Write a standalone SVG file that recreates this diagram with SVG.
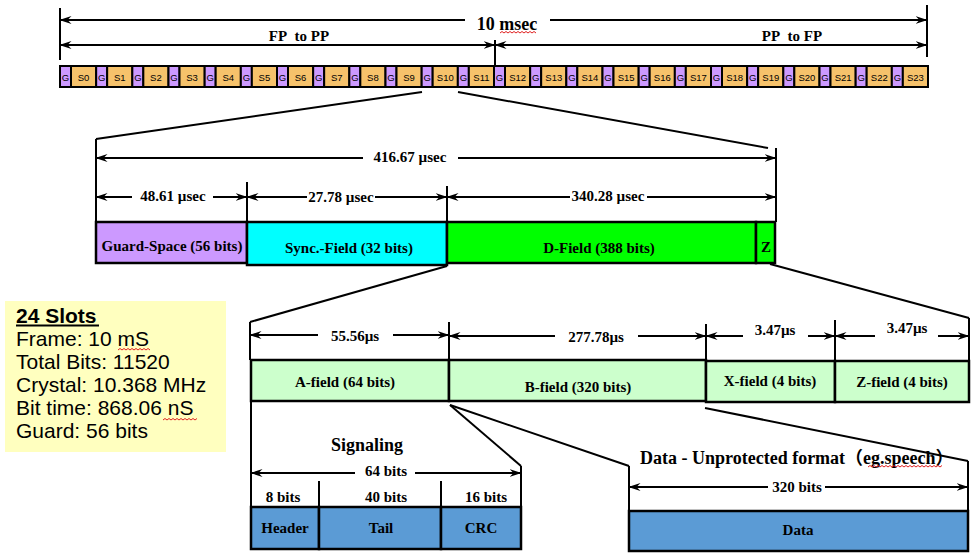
<svg xmlns="http://www.w3.org/2000/svg" width="980" height="558" viewBox="0 0 980 558">
<style>
.t{font-family:"Liberation Serif","Times New Roman",serif;font-weight:bold;font-size:15px;text-anchor:middle;fill:#000}
.big{font-size:18px}
.st{font-family:"Liberation Sans",Arial,sans-serif;font-size:9.5px;text-anchor:middle;fill:#000}
.y{font-family:"Liberation Sans",Arial,sans-serif;font-size:21px;fill:#000}
.ln{stroke:#000;stroke-width:2;fill:none}
.a1{stroke:#000;stroke-width:2;fill:none;marker-end:url(#arr)}
.a0{stroke:#000;stroke-width:2;fill:none;marker-start:url(#arr)}
.a2{stroke:#000;stroke-width:2;fill:none;marker-start:url(#arr);marker-end:url(#arr)}
.bx{stroke:#000;stroke-width:2.5}
.g{fill:#CC99FF;stroke:#000;stroke-width:2}
.s{fill:#F6C26B;stroke:#000;stroke-width:2}
.lg{fill:#CCFFCC}
.bl{fill:#5B9BD5}
.sq{stroke:#E02020;stroke-width:1;fill:none}
</style>
<defs>
<marker id="arr" viewBox="0 0 12 10" refX="11.5" refY="5" markerWidth="12" markerHeight="10" markerUnits="userSpaceOnUse" orient="auto-start-reverse">
<path d="M0,1 L12,5 L0,9 L4,5 Z" fill="#000"/>
</marker>
</defs>
<rect width="980" height="558" fill="#fff"/>

<g id="frame-slots">
<rect class="g" x="60" y="66" width="11" height="21"/><rect class="s" x="71" y="66" width="25.17" height="21"/>
<rect class="g" x="96.17" y="66" width="11" height="21"/><rect class="s" x="107.17" y="66" width="25.17" height="21"/>
<rect class="g" x="132.33" y="66" width="11" height="21"/><rect class="s" x="143.33" y="66" width="25.17" height="21"/>
<rect class="g" x="168.5" y="66" width="11" height="21"/><rect class="s" x="179.5" y="66" width="25.17" height="21"/>
<rect class="g" x="204.67" y="66" width="11" height="21"/><rect class="s" x="215.67" y="66" width="25.17" height="21"/>
<rect class="g" x="240.83" y="66" width="11" height="21"/><rect class="s" x="251.83" y="66" width="25.17" height="21"/>
<rect class="g" x="277" y="66" width="11" height="21"/><rect class="s" x="288" y="66" width="25.17" height="21"/>
<rect class="g" x="313.17" y="66" width="11" height="21"/><rect class="s" x="324.17" y="66" width="25.17" height="21"/>
<rect class="g" x="349.33" y="66" width="11" height="21"/><rect class="s" x="360.33" y="66" width="25.17" height="21"/>
<rect class="g" x="385.5" y="66" width="11" height="21"/><rect class="s" x="396.5" y="66" width="25.17" height="21"/>
<rect class="g" x="421.67" y="66" width="11" height="21"/><rect class="s" x="432.67" y="66" width="25.17" height="21"/>
<rect class="g" x="457.83" y="66" width="11" height="21"/><rect class="s" x="468.83" y="66" width="25.17" height="21"/>
<rect class="g" x="494" y="66" width="11" height="21"/><rect class="s" x="505" y="66" width="25.17" height="21"/>
<rect class="g" x="530.17" y="66" width="11" height="21"/><rect class="s" x="541.17" y="66" width="25.17" height="21"/>
<rect class="g" x="566.33" y="66" width="11" height="21"/><rect class="s" x="577.33" y="66" width="25.17" height="21"/>
<rect class="g" x="602.5" y="66" width="11" height="21"/><rect class="s" x="613.5" y="66" width="25.17" height="21"/>
<rect class="g" x="638.67" y="66" width="11" height="21"/><rect class="s" x="649.67" y="66" width="25.17" height="21"/>
<rect class="g" x="674.83" y="66" width="11" height="21"/><rect class="s" x="685.83" y="66" width="25.17" height="21"/>
<rect class="g" x="711" y="66" width="11" height="21"/><rect class="s" x="722" y="66" width="25.17" height="21"/>
<rect class="g" x="747.17" y="66" width="11" height="21"/><rect class="s" x="758.17" y="66" width="25.17" height="21"/>
<rect class="g" x="783.33" y="66" width="11" height="21"/><rect class="s" x="794.33" y="66" width="25.17" height="21"/>
<rect class="g" x="819.5" y="66" width="11" height="21"/><rect class="s" x="830.5" y="66" width="25.17" height="21"/>
<rect class="g" x="855.67" y="66" width="11" height="21"/><rect class="s" x="866.67" y="66" width="25.17" height="21"/>
<rect class="g" x="891.83" y="66" width="11" height="21"/><rect class="s" x="902.83" y="66" width="25.17" height="21"/>
<g>
<text class="st" x="65.5" y="81">G</text><text class="st" x="83.58" y="81">S0</text>
<text class="st" x="101.67" y="81">G</text><text class="st" x="119.75" y="81">S1</text>
<text class="st" x="137.83" y="81">G</text><text class="st" x="155.92" y="81">S2</text>
<text class="st" x="174" y="81">G</text><text class="st" x="192.08" y="81">S3</text>
<text class="st" x="210.17" y="81">G</text><text class="st" x="228.25" y="81">S4</text>
<text class="st" x="246.33" y="81">G</text><text class="st" x="264.42" y="81">S5</text>
<text class="st" x="282.5" y="81">G</text><text class="st" x="300.58" y="81">S6</text>
<text class="st" x="318.67" y="81">G</text><text class="st" x="336.75" y="81">S7</text>
<text class="st" x="354.83" y="81">G</text><text class="st" x="372.92" y="81">S8</text>
<text class="st" x="391" y="81">G</text><text class="st" x="409.08" y="81">S9</text>
<text class="st" x="427.17" y="81">G</text><text class="st" x="445.25" y="81">S10</text>
<text class="st" x="463.33" y="81">G</text><text class="st" x="481.42" y="81">S11</text>
<text class="st" x="499.5" y="81">G</text><text class="st" x="517.58" y="81">S12</text>
<text class="st" x="535.67" y="81">G</text><text class="st" x="553.75" y="81">S13</text>
<text class="st" x="571.83" y="81">G</text><text class="st" x="589.92" y="81">S14</text>
<text class="st" x="608" y="81">G</text><text class="st" x="626.08" y="81">S15</text>
<text class="st" x="644.17" y="81">G</text><text class="st" x="662.25" y="81">S16</text>
<text class="st" x="680.33" y="81">G</text><text class="st" x="698.42" y="81">S17</text>
<text class="st" x="716.5" y="81">G</text><text class="st" x="734.58" y="81">S18</text>
<text class="st" x="752.67" y="81">G</text><text class="st" x="770.75" y="81">S19</text>
<text class="st" x="788.83" y="81">G</text><text class="st" x="806.92" y="81">S20</text>
<text class="st" x="825" y="81">G</text><text class="st" x="843.08" y="81">S21</text>
<text class="st" x="861.17" y="81">G</text><text class="st" x="879.25" y="81">S22</text>
<text class="st" x="897.33" y="81">G</text><text class="st" x="915.42" y="81">S23</text>
</g>
</g>

<g id="slot-fields">
<rect x="96" y="222" width="151" height="41" fill="#CC99FF" class="bx"/>
<rect x="247" y="222" width="200" height="43" fill="#00FFFF" class="bx"/>
<rect x="447" y="222" width="309" height="41" fill="#00FF00" class="bx"/>
<rect x="756" y="222" width="19" height="41" fill="#00FF00" class="bx"/>
<text class="t" x="172" y="251">Guard-Space (56 bits)</text>
<text class="t" x="349" y="253">Sync.-Field (32 bits)</text>
<text class="t" x="599" y="253">D-Field (388 bits)</text>
<text class="t" x="766" y="252">Z</text>
</g>

<g id="d-fields">
<rect x="251" y="360" width="198" height="41" class="lg bx"/>
<rect x="449" y="360" width="257" height="41" class="lg bx"/>
<rect x="706" y="361" width="129" height="41" class="lg bx"/>
<rect x="835" y="361" width="134" height="41" class="lg bx"/>
<text class="t" x="345" y="387">A-field (64 bits)</text>
<text class="t" x="578" y="392">B-field (320 bits)</text>
<text class="t" x="770" y="386">X-field (4 bits)</text>
<text class="t" x="902" y="387">Z-field (4 bits)</text>
</g>

<g id="signaling">
<text class="t big" x="367" y="451">Signaling</text>
<rect x="251" y="507" width="68" height="42" class="bl bx"/>
<rect x="319" y="507" width="122" height="42" class="bl bx"/>
<rect x="441" y="507" width="80" height="42" class="bl bx"/>
<text class="t" x="283" y="502">8 bits</text>
<text class="t" x="386" y="502">40 bits</text>
<text class="t" x="486" y="502">16 bits</text>
<text class="t" x="285" y="533">Header</text>
<text class="t" x="381" y="533">Tail</text>
<text class="t" x="481" y="533">CRC</text>
</g>

<g id="data">
<text class="t big" x="640" y="464" style="text-anchor:start;font-family:'Liberation Serif','Noto Sans CJK SC',serif">Data - Unprotected format（eg.speech）</text>
<rect x="629" y="511" width="339" height="40" class="bl bx"/>
<text class="t" x="798" y="535">Data</text>
</g>

<g id="info-box">
<rect x="5" y="301" width="221" height="151" fill="#FFFFBF"/>
<text class="y" x="16" y="323" font-weight="bold">24 Slots</text>
<rect x="16" y="324.5" width="83" height="2" fill="#000"/>
<text class="y" x="16" y="346">Frame: 10 mS</text>
<text class="y" x="16" y="369">Total Bits: 11520</text>
<text class="y" x="16" y="392">Crystal: 10.368 MHz</text>
<text class="y" x="16" y="415">Bit time: 868.06 nS</text>
<text class="y" x="16" y="438">Guard: 56 bits</text>
</g>

<g id="connectors">
<line class="ln" x1="60" y1="8" x2="60" y2="60"/>
<line class="ln" x1="927" y1="5" x2="927" y2="57"/>
<line class="ln" x1="495" y1="40" x2="495" y2="66"/>
<line class="a0" x1="60" y1="20" x2="465" y2="20"/>
<line class="a1" x1="550" y1="20" x2="927" y2="20"/>
<line class="a2" x1="60" y1="45" x2="495" y2="45"/>
<line class="a2" x1="495" y1="45" x2="927" y2="45"/>
<line class="ln" x1="422" y1="92" x2="96" y2="139"/>
<line class="ln" x1="458" y1="92" x2="768" y2="148"/>
<line class="ln" x1="96" y1="139" x2="96" y2="222"/>
<line class="ln" x1="776" y1="148" x2="776" y2="222"/>
<line class="ln" x1="247" y1="182" x2="247" y2="222"/>
<line class="ln" x1="447" y1="186" x2="447" y2="222"/>
<line class="a0" x1="96" y1="158" x2="363" y2="158"/>
<line class="a1" x1="458" y1="158" x2="776" y2="158"/>
<line class="a0" x1="96" y1="197" x2="132" y2="197"/>
<line class="a1" x1="213" y1="197" x2="247" y2="197"/>
<line class="a0" x1="247" y1="197" x2="307" y2="197"/>
<line class="a1" x1="375" y1="197" x2="447" y2="197"/>
<line class="a0" x1="447" y1="197" x2="570" y2="197"/>
<line class="a1" x1="647" y1="197" x2="776" y2="197"/>
<line class="ln" x1="447" y1="266" x2="250" y2="322"/>
<line class="ln" x1="770" y1="264" x2="969" y2="318"/>
<line class="ln" x1="250" y1="322" x2="250" y2="360"/>
<line class="ln" x1="449" y1="322" x2="449" y2="360"/>
<line class="ln" x1="706" y1="324" x2="706" y2="361"/>
<line class="ln" x1="835" y1="320" x2="835" y2="361"/>
<line class="ln" x1="969" y1="318" x2="969" y2="361"/>
<line class="a0" x1="250" y1="335" x2="318" y2="335"/>
<line class="a1" x1="393" y1="335" x2="449" y2="335"/>
<line class="a0" x1="449" y1="336" x2="555" y2="336"/>
<line class="a1" x1="638" y1="336" x2="706" y2="336"/>
<line class="a0" x1="706" y1="336" x2="743" y2="336"/>
<line class="a1" x1="808" y1="336" x2="835" y2="336"/>
<line class="a0" x1="835" y1="336" x2="875" y2="336"/>
<line class="a1" x1="938" y1="336" x2="969" y2="336"/>
<line class="ln" x1="251" y1="401" x2="251" y2="507"/>
<line class="ln" x1="450" y1="405" x2="521" y2="466"/>
<line class="ln" x1="521" y1="466" x2="521" y2="507"/>
<line class="ln" x1="319" y1="481" x2="319" y2="507"/>
<line class="ln" x1="441" y1="481" x2="441" y2="507"/>
<line class="a0" x1="251" y1="473" x2="355" y2="473"/>
<line class="a1" x1="415" y1="473" x2="521" y2="473"/>
<line class="ln" x1="450" y1="405" x2="629" y2="466"/>
<line class="ln" x1="705" y1="408" x2="968" y2="461"/>
<line class="ln" x1="629" y1="466" x2="629" y2="511"/>
<line class="ln" x1="968" y1="461" x2="968" y2="511"/>
<line class="a0" x1="629" y1="487" x2="768" y2="487"/>
<line class="a1" x1="825" y1="487" x2="968" y2="487"/>
</g>

<g id="dimension-labels">
<text class="t big" x="507" y="30">10 msec</text>
<text class="t" x="299" y="41">FP&#160; to PP</text>
<text class="t" x="792" y="41">PP&#160; to FP</text>
<text class="t" x="410" y="162">416.67 µsec</text>
<text class="t" x="173" y="201">48.61 µsec</text>
<text class="t" x="341" y="202">27.78 µsec</text>
<text class="t" x="608" y="201">340.28 µsec</text>
<text class="t" x="355" y="341">55.56µs</text>
<text class="t" x="596" y="342">277.78µs</text>
<text class="t" x="775" y="335">3.47µs</text>
<text class="t" x="907" y="333">3.47µs</text>
<text class="t" x="386" y="476">64 bits</text>
<text class="t" x="797" y="492">320 bits</text>
</g>

<g id="spellcheck-marks">
<path class="sq" d="M500,33 l2,-1.5 l2,1.5 l2,-1.5 l2,1.5 l2,-1.5 l2,1.5 l2,-1.5 l2,1.5 l2,-1.5 l2,1.5 l2,-1.5 l2,1.5 l2,-1.5 l2,1.5 l2,-1.5 l2,1.5 l2,-1.5 l2,1.5"/>
<path class="sq" d="M118,350 l2,-1.5 l2,1.5 l2,-1.5 l2,1.5 l2,-1.5 l2,1.5 l2,-1.5 l2,1.5 l2,-1.5 l2,1.5 l2,-1.5 l2,1.5 l2,-1.5 l2,1.5 l2,-1.5 l2,1.5"/>
<path class="sq" d="M163,420 l2,-1.5 l2,1.5 l2,-1.5 l2,1.5 l2,-1.5 l2,1.5 l2,-1.5 l2,1.5 l2,-1.5 l2,1.5 l2,-1.5 l2,1.5 l2,-1.5 l2,1.5 l2,-1.5 l2,1.5 l2,-1.5"/>
<path class="sq" d="M868,467 l2,-1.5 l2,1.5 l2,-1.5 l2,1.5 l2,-1.5 l2,1.5 l2,-1.5 l2,1.5 l2,-1.5 l2,1.5 l2,-1.5 l2,1.5 l2,-1.5 l2,1.5 l2,-1.5 l2,1.5 l2,-1.5 l2,1.5 l2,-1.5 l2,1.5 l2,-1.5 l2,1.5 l2,-1.5 l2,1.5 l2,-1.5 l2,1.5 l2,-1.5 l2,1.5 l2,-1.5 l2,1.5 l2,-1.5 l2,1.5 l2,-1.5 l2,1.5 l2,-1.5 l2,1.5 l2,-1.5"/>
</g>
</svg>
